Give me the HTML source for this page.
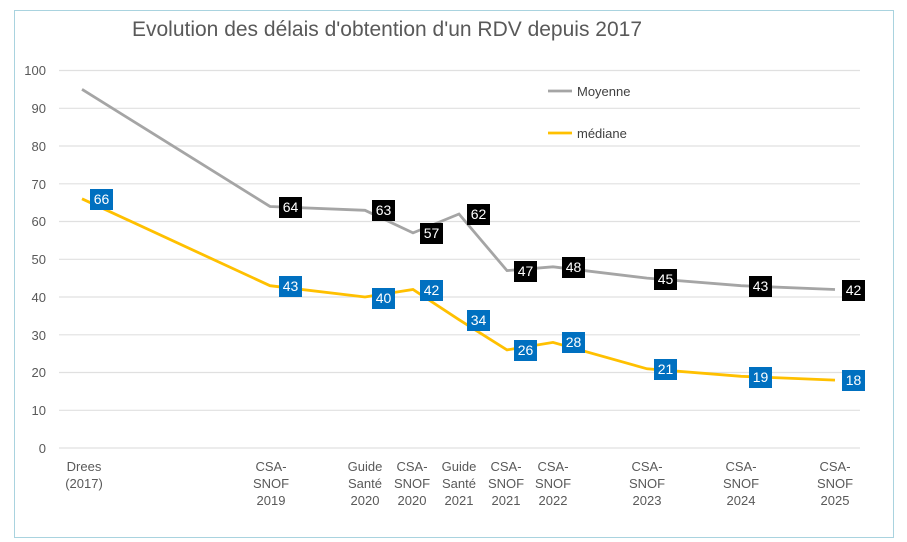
<!DOCTYPE html>
<html><head><meta charset="utf-8"><style>
body{margin:0;background:#fff;}
svg{display:block;font-family:"Liberation Sans",sans-serif;}
</style></head><body>
<svg width="907" height="542" viewBox="0 0 907 542">
<rect x="14.5" y="10.5" width="879" height="527" fill="#fff" stroke="#a9d3df" stroke-width="1"/>
<text x="387" y="36" font-size="21" fill="#595959" text-anchor="middle">Evolution des délais d'obtention d'un RDV depuis 2017</text>
<g stroke="#e0e0e0" stroke-width="1.2">
<line x1="59" x2="860" y1="70.5" y2="70.5"/><line x1="59" x2="860" y1="108.3" y2="108.3"/>
<line x1="59" x2="860" y1="146" y2="146"/><line x1="59" x2="860" y1="183.8" y2="183.8"/>
<line x1="59" x2="860" y1="221.5" y2="221.5"/><line x1="59" x2="860" y1="259.3" y2="259.3"/>
<line x1="59" x2="860" y1="297" y2="297"/><line x1="59" x2="860" y1="334.8" y2="334.8"/>
<line x1="59" x2="860" y1="372.5" y2="372.5"/><line x1="59" x2="860" y1="410.3" y2="410.3"/>
<line x1="59" x2="860" y1="448" y2="448"/>
</g>
<g font-size="13" fill="#595959" text-anchor="end">
<text x="46" y="75">100</text><text x="46" y="113">90</text><text x="46" y="151">80</text>
<text x="46" y="189">70</text><text x="46" y="226">60</text><text x="46" y="264">50</text>
<text x="46" y="302">40</text><text x="46" y="340">30</text><text x="46" y="377">20</text>
<text x="46" y="415">10</text><text x="46" y="453">0</text>
</g>
<g font-size="13" fill="#595959" text-anchor="middle">
<text x="84" y="471">Drees</text><text x="84" y="488">(2017)</text>
<text x="271" y="471">CSA-</text><text x="271" y="488">SNOF</text><text x="271" y="505">2019</text>
<text x="365" y="471">Guide</text><text x="365" y="488">Santé</text><text x="365" y="505">2020</text>
<text x="412" y="471">CSA-</text><text x="412" y="488">SNOF</text><text x="412" y="505">2020</text>
<text x="459" y="471">Guide</text><text x="459" y="488">Santé</text><text x="459" y="505">2021</text>
<text x="506" y="471">CSA-</text><text x="506" y="488">SNOF</text><text x="506" y="505">2021</text>
<text x="553" y="471">CSA-</text><text x="553" y="488">SNOF</text><text x="553" y="505">2022</text>
<text x="647" y="471">CSA-</text><text x="647" y="488">SNOF</text><text x="647" y="505">2023</text>
<text x="741" y="471">CSA-</text><text x="741" y="488">SNOF</text><text x="741" y="505">2024</text>
<text x="835" y="471">CSA-</text><text x="835" y="488">SNOF</text><text x="835" y="505">2025</text>
</g>
<polyline fill="none" stroke="#a5a5a5" stroke-width="2.8" points="82,89.3 270,206.5 365,210.3 413,232.9 459,214 507,270.6 553,266.8 647,278.1 741,285.7 835,289.5"/>
<polyline fill="none" stroke="#ffc000" stroke-width="2.8" points="82,198.8 270,285.7 365,297 413,289.5 459,319.7 507,349.9 553,342.4 647,368.8 741,376.3 835,380.1"/>
<line x1="548" x2="572" y1="91" y2="91" stroke="#a5a5a5" stroke-width="2.8"/>
<text x="577" y="96" font-size="13" fill="#404040">Moyenne</text>
<line x1="548" x2="572" y1="133" y2="133" stroke="#ffc000" stroke-width="2.8"/>
<text x="577" y="138" font-size="13" fill="#404040">médiane</text>
<g font-size="14" fill="#fff" text-anchor="middle">
<g fill="#000">
<rect x="279" y="197" width="23" height="21"/><rect x="372" y="200" width="23" height="21"/>
<rect x="420" y="223" width="23" height="21"/><rect x="467" y="204" width="23" height="21"/>
<rect x="514" y="261" width="23" height="21"/><rect x="562" y="257" width="23" height="21"/>
<rect x="654" y="269" width="23" height="21"/><rect x="749" y="276" width="23" height="21"/>
<rect x="842" y="280" width="23" height="21"/>
</g>
<g fill="#0070c0">
<rect x="90" y="189" width="23" height="21"/><rect x="279" y="276" width="23" height="21"/>
<rect x="372" y="288" width="23" height="21"/><rect x="420" y="280" width="23" height="21"/>
<rect x="467" y="310" width="23" height="21"/><rect x="514" y="340" width="23" height="21"/>
<rect x="562" y="332" width="23" height="21"/><rect x="654" y="359" width="23" height="21"/>
<rect x="749" y="367" width="23" height="21"/><rect x="842" y="370" width="23" height="21"/>
</g>
<text x="290.5" y="212">64</text><text x="383.5" y="215">63</text><text x="431.5" y="238">57</text>
<text x="478.5" y="219">62</text><text x="525.5" y="276">47</text><text x="573.5" y="272">48</text>
<text x="665.5" y="284">45</text><text x="760.5" y="291">43</text><text x="853.5" y="295">42</text>
<text x="101.5" y="204">66</text><text x="290.5" y="291">43</text><text x="383.5" y="303">40</text>
<text x="431.5" y="295">42</text><text x="478.5" y="325">34</text><text x="525.5" y="355">26</text>
<text x="573.5" y="347">28</text><text x="665.5" y="374">21</text><text x="760.5" y="382">19</text>
<text x="853.5" y="385">18</text>
</g>
</svg>
</body></html>
